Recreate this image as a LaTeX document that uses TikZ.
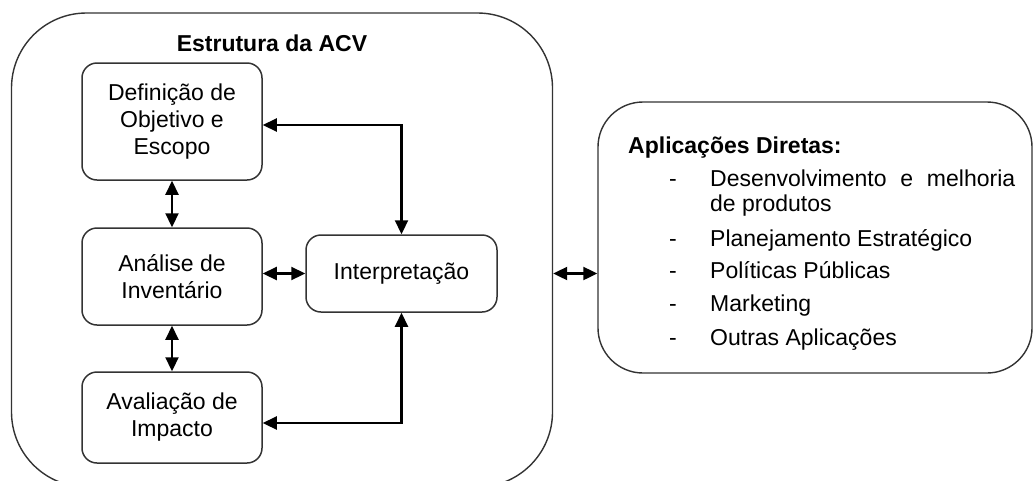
\documentclass[tikz,border=0pt]{standalone}
\usepackage{fontspec}
\setmainfont{Liberation Sans}
\usepackage{tikz}
\usetikzlibrary{positioning,arrows.meta}
\tikzset{
    moldura/.style={draw=black!80, line width=1.4pt}, % caixas externas
    etapa/.style={draw=black!80, line width=1.5pt, rounded corners=15pt, align=center,
        minimum width=180pt, font=\fontsize{23}{27}\selectfont},
    texto/.style={inner sep=0pt, anchor=base west, font=\fontsize{23}{25}\selectfont},
    link/.style={draw, line width=2.2pt, {Triangle[length=14pt,width=13pt]}-{Triangle[length=14pt,width=13pt]}}
}

\begin{document}
\begin{tikzpicture}[x=1pt, y=-1pt]
    \useasboundingbox (0,0) rectangle (1035,480);

    % estrutura da ACV
    \node (acv) [moldura, rounded corners=75pt, minimum width=541pt, minimum height=474pt] at (282,250) {};
    \node (titulo) [texto, anchor=base, font=\bfseries\fontsize{23}{25}\selectfont] at (272,51) {Estrutura da ACV};

    \node (def) [etapa, minimum height=117pt] at (172,121.5) {Definição de\\Objetivo e\\Escopo};
    \node (ana) [etapa, minimum height=97pt] at (172,276.5) {Análise de\\Inventário};
    \node (ava) [etapa, minimum height=91pt] at (172,417.5) {Avaliação de\\Impacto};
    \node (interp) [etapa, minimum width=191pt, minimum height=77pt] at (401.5,273.5) {Interpretação};

    % aplicações diretas
    \node (apl) [moldura, rounded corners=45pt, minimum width=434pt, minimum height=271pt] at (815,237.5) {};
    \node (apltit) [texto, font=\bfseries\fontsize{23}{25}\selectfont] at (628,153) {Aplicações Diretas:};

    \node (d1) [texto] at (669,186) {-};
    \node (d2) [texto] at (669,246) {-};
    \node (d3) [texto] at (669,278) {-};
    \node (d4) [texto] at (669,311) {-};
    \node (d5) [texto] at (669,345) {-};

    \node (a1) [texto, text width=305pt, align=justify] at (710,186) {Desenvolvimento e melhoria de produtos};
    \node (a2) [texto] at (710,246) {Planejamento Estratégico};
    \node (a3) [texto] at (710,278) {Políticas Públicas};
    \node (a4) [texto] at (710,311) {Marketing};
    \node (a5) [texto] at (710,345) {Outras Aplicações};

    % ligações
    \draw[link] (def.south) -- (ana.north);
    \draw[link] (ana.south) -- (ava.north);
    \draw[link] (ana.east |- interp.west) -- (interp.west);
    \draw[link] ([yshift=-3.5pt]def.east) -| (interp.north);
    \draw[link] ([yshift=-5.5pt]ava.east) -| (interp.south);
    \draw[link] (acv.east |- interp.west) -- (apl.west |- interp.west);
\end{tikzpicture}
\end{document}
